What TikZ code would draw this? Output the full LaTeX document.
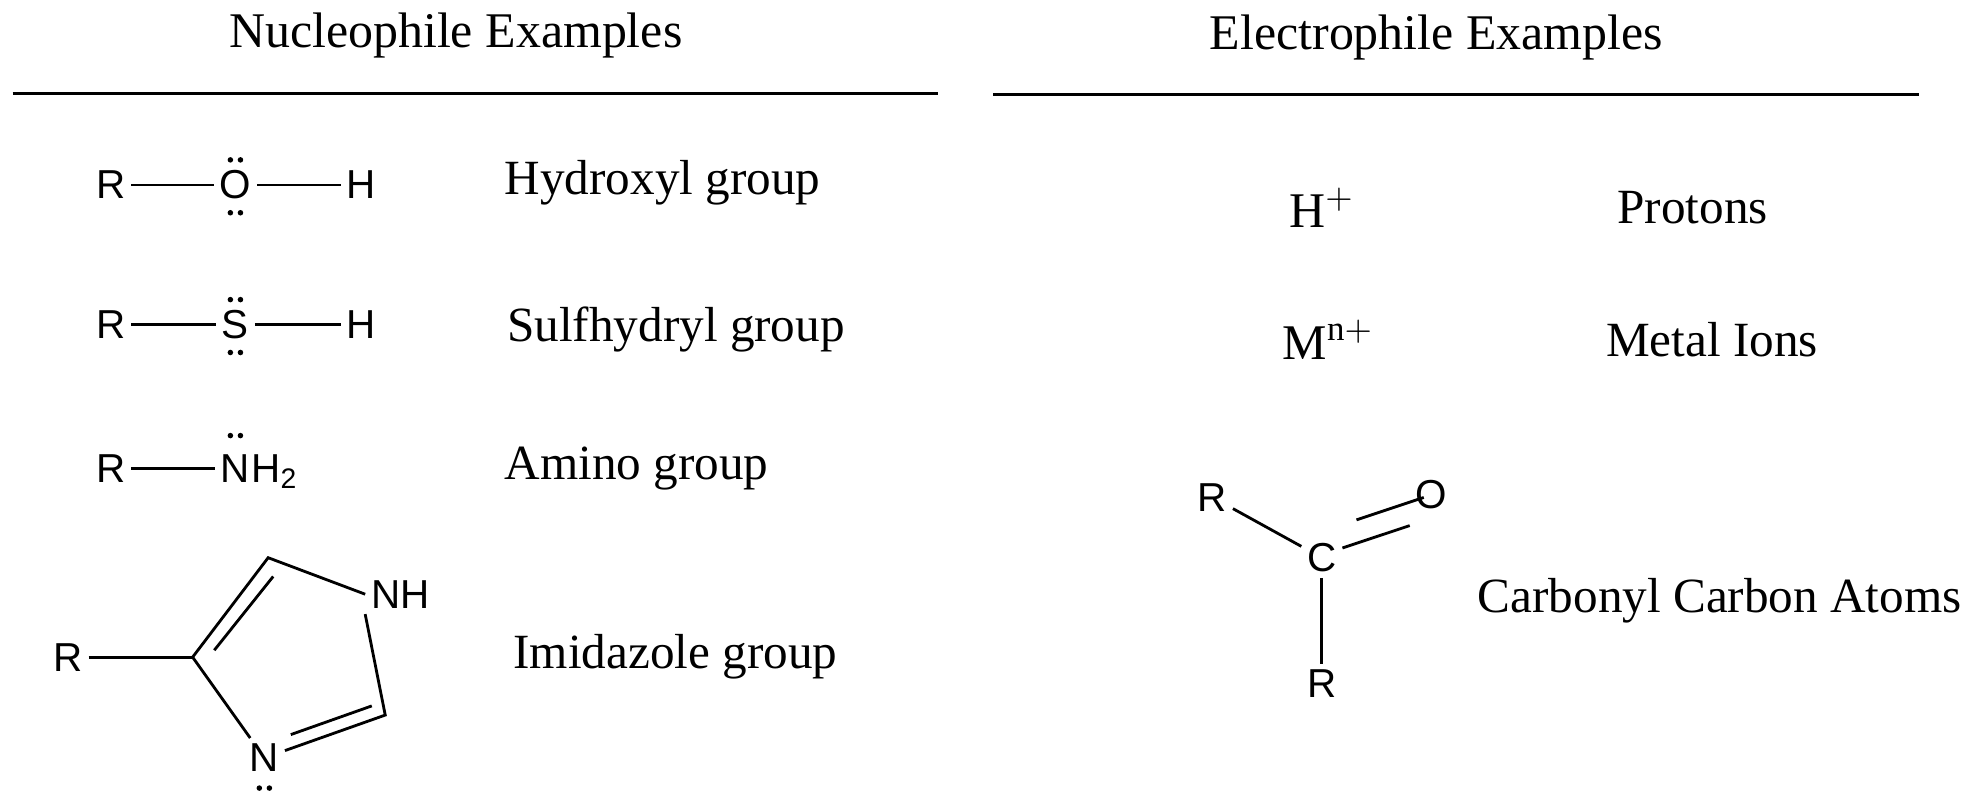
\documentclass[tikz,border=0pt]{standalone}
\usepackage{fontspec}
\setmainfont{Liberation Serif}
\newfontfamily\chemfont{Liberation Sans}
\usetikzlibrary{calc}
\begin{document}
\begin{tikzpicture}[
    x=0.01259cm, y=-0.01259cm,
    every node/.style={align=center},
    title/.style={font=\fontsize{14.2}{17}\selectfont},
    caption/.style={font=\fontsize{14}{17}\selectfont, anchor=west},
    atom/.style={font=\chemfont\fontsize{11.5}{13}\selectfont, inner sep=1.5pt},
    bond/.style={draw, thick},
    rule line/.style={draw, thick},
    ]
\useasboundingbox (0,0) rectangle (1568,637);
\newcommand{\lonepair}[2]{\fill (#1-4,#2) circle (2.2) (#1+4,#2) circle (2.2);}
% headings
\node[title] (nucT) at (362,28) {Nucleophile Examples};
\node[title] (eleT) at (1141,30) {Electrophile Examples};
\coordinate (nucA) at (10,74);
\coordinate (nucB) at (745,74);
\coordinate (eleA) at (789,75);
\coordinate (eleB) at (1524,75);
\draw[rule line] (nucA) -- (nucB);
\draw[rule line] (eleA) -- (eleB);
% hydroxyl
\node[atom] (ohR) at (88,147) {R};
\node[atom] (ohO) at (187,147) {O};
\node[atom] (ohH) at (287,147) {H};
\draw[bond] (ohR) -- (ohO);
\draw[bond] (ohO) -- (ohH);
\lonepair{187}{127}
\lonepair{187}{169}
\node[caption] (ohL) at (391,145) {Hydroxyl group};
% sulfhydryl
\node[atom] (shR) at (88,258) {R};
\node[atom] (shS) at (187,258) {S};
\node[atom] (shH) at (287,258) {H};
\draw[bond] (shR) -- (shS);
\draw[bond] (shS) -- (shH);
\lonepair{187}{238}
\lonepair{187}{280}
\node[caption] (shL) at (393,262) {Sulfhydryl group};
% amino
\node[atom] (nhR) at (88,372) {R};
\node[atom] (nhN) at (187,372) {N};
\node[atom, anchor=base west, inner sep=0pt] (nhH) at ([xshift=-1.5pt]nhN.base east) {H\textsubscript{2}};
\draw[bond] (nhR) -- (nhN);
\lonepair{187}{346}
\node[caption] (nhL) at (391,372) {Amino group};
% imidazole
\node[atom] (imR) at (54,522) {R};
\coordinate (imC4) at (153,522);
\coordinate (imC5) at (213,443);
\node[atom] (imN1) at (318,472) {NH};
\coordinate (imC2) at (306,568);
\node[atom] (imN3) at (210,602) {N};
\draw[bond] (imR) -- (imC4);
\draw[bond] (imC4) -- (imC5) -- (imN1.west);
\draw[bond] (imN1.south west) -- (imC2) -- (imN3);
\draw[bond] (imN3) -- (imC4);
\draw[bond] ($(imC4)!0.12!(imC5)+(10,4)$) -- ($(imC5)!0.1!(imC4)+(10,7)$);
\draw[bond] ($(imC2)!0.08!(imN3)+(-3,-10)$) -- ($(imN3)!0.25!(imC2)+(-3,-10)$);
\lonepair{210}{626}
\node[caption] (imL) at (398,522) {Imidazole group};
% protons, metal ions
\node[title] (proton) at (1050,165) {H$^+$};
\node[caption] (protonL) at (1275,165) {Protons};
\node[title] (metal) at (1055,270) {M$^{\mathrm{n+}}$};
\node[caption] (metalL) at (1266,270) {Metal Ions};
% carbonyl
\node[atom] (coR1) at (963,395) {R};
\node[atom] (coC) at (1050,443) {C};
\node[atom] (coO) at (1137,393) {O};
\node[atom] (coR2) at (1050,543) {R};
\draw[bond] (coR1) -- (coC);
\draw[bond] (coC) -- (coR2);
\draw[bond] ([yshift=-3]coC.north east) -- ([yshift=-3]coO.south west);
\draw[bond] ([xshift=4,yshift=5]coC.north east) -- ([xshift=4,yshift=5]coO.south west);
\node[caption] (coL) at (1164,477) {Carbonyl Carbon Atoms};
\end{tikzpicture}
\end{document}
